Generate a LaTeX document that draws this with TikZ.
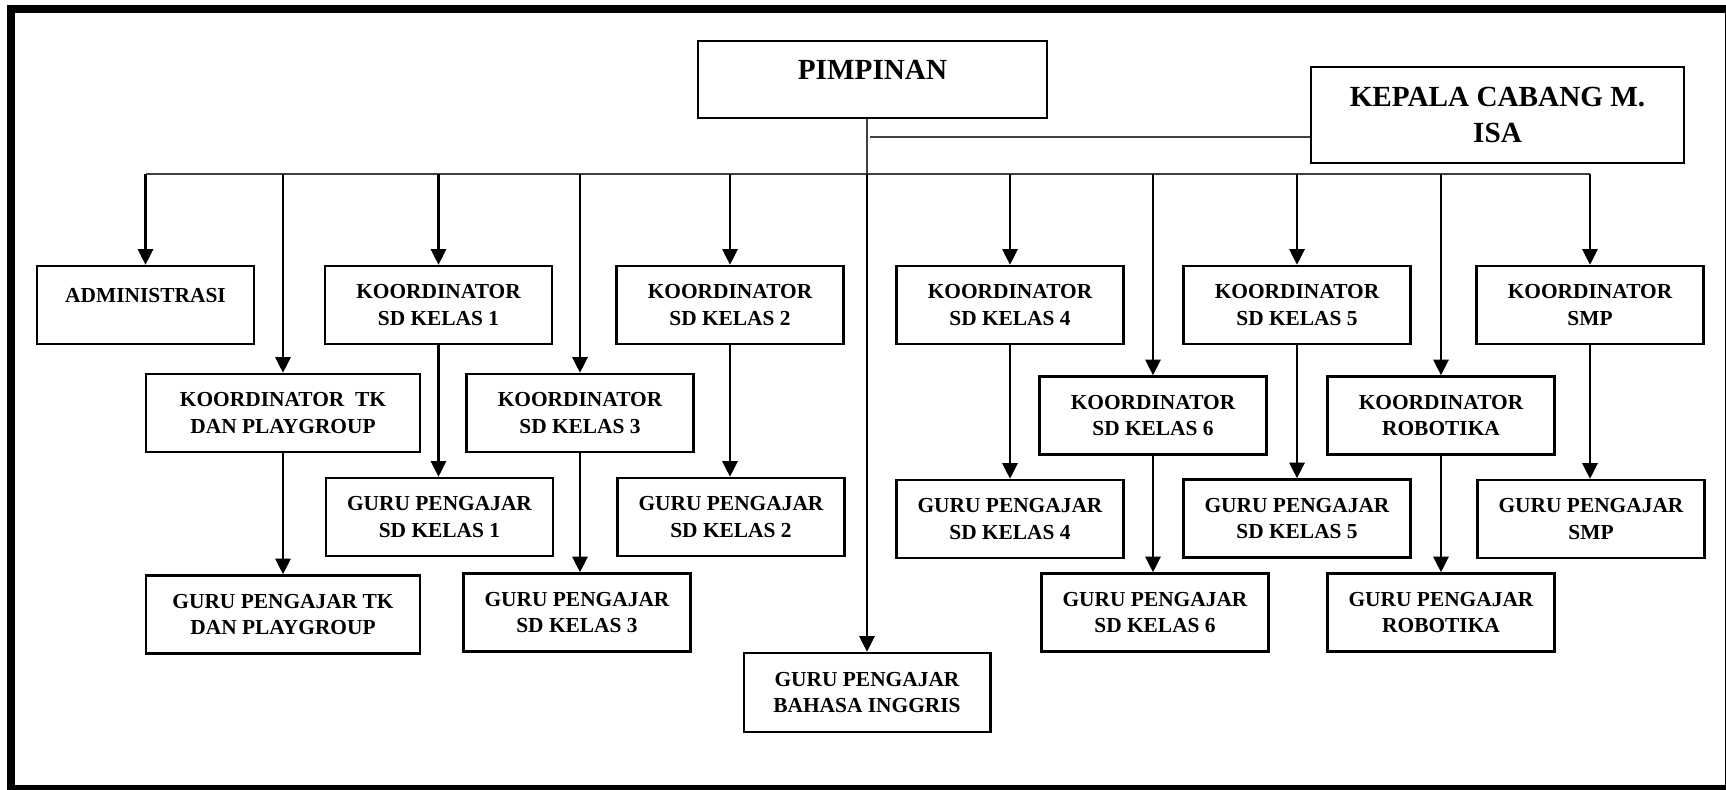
\documentclass[tikz,border=0pt]{standalone}
\usepackage{fontspec}
\setmainfont{Liberation Serif}
\usetikzlibrary{arrows.meta}

\begin{document}
\begin{tikzpicture}[x=0.5pt,y=-0.5pt,
            jabatan/.style={draw,rectangle,line width=1.25pt,inner sep=0pt,minimum width=113.5pt,minimum height=39pt,align=center,font=\fontsize{10.7}{13.4}\selectfont\bfseries},
            besar/.style={jabatan,font=\fontsize{14.6}{18.3}\selectfont\bfseries},
            panah/.style={-{Triangle[width=7.6pt,length=7.8pt]},line width=1.15pt},
            garis/.style={line width=0.75pt,black!75}]
            \useasboundingbox (0,0) rectangle (1726,789);
            \draw [line width=4.2pt] (10.8,9.2) rectangle (1729,789.5);
            \node [besar,minimum width=174.5pt,minimum height=38.5pt,text height=19.25pt,text depth=19.25pt] (pimpinan) at (872.5,79.5) {PIMPINAN};
            \node [besar,minimum width=186.5pt,minimum height=48pt] (kepala) at (1497.5,115) {KEPALA CABANG M.\\ISA};
            \node [jabatan,minimum width=108.5pt,text height=18.25pt,text depth=20.75pt] (admin) at (145.5,305) {ADMINISTRASI};
            \node [jabatan] (ksd1) at (438.5,305) {KOORDINATOR\\SD KELAS 1};
            \node [jabatan] (ksd2) at (730,305) {KOORDINATOR\\SD KELAS 2};
            \node [jabatan] (ksd4) at (1010,305) {KOORDINATOR\\SD KELAS 4};
            \node [jabatan] (ksd5) at (1297,305) {KOORDINATOR\\SD KELAS 5};
            \node [jabatan] (ksmp) at (1590,305) {KOORDINATOR\\SMP};
            \node [jabatan,minimum width=137pt] (ktk) at (283,413) {KOORDINATOR\ \ TK\\DAN PLAYGROUP};
            \node [jabatan] (ksd3) at (580,413) {KOORDINATOR\\SD KELAS 3};
            \node [jabatan] (ksd6) at (1153,415.5) {KOORDINATOR\\SD KELAS 6};
            \node [jabatan] (krobot) at (1441,415.5) {KOORDINATOR\\ROBOTIKA};
            \node [jabatan] (gsd1) at (439.5,517) {GURU PENGAJAR\\SD KELAS 1};
            \node [jabatan] (gsd2) at (731,517) {GURU PENGAJAR\\SD KELAS 2};
            \node [jabatan] (gsd4) at (1010,519) {GURU PENGAJAR\\SD KELAS 4};
            \node [jabatan] (gsd5) at (1297,518.5) {GURU PENGAJAR\\SD KELAS 5};
            \node [jabatan] (gsmp) at (1591,519) {GURU PENGAJAR\\SMP};
            \node [jabatan,minimum width=137pt] (gtk) at (283,614.5) {GURU PENGAJAR TK\\DAN PLAYGROUP};
            \node [jabatan] (gsd3) at (577,612.5) {GURU PENGAJAR\\SD KELAS 3};
            \node [jabatan] (gsd6) at (1155,612.5) {GURU PENGAJAR\\SD KELAS 6};
            \node [jabatan] (grobot) at (1441,612.5) {GURU PENGAJAR\\ROBOTIKA};
            \node [jabatan,minimum width=123.25pt,minimum height=39.5pt] (bahasa) at (867,692.5) {GURU PENGAJAR\\BAHASA INGGRIS};
            \coordinate (bus) at (0,174);
            \coordinate (cabang) at (870,137);
            \draw [garis] (pimpinan.south -| bahasa) -- (bus -| bahasa);
            \draw [garis] (cabang) -- (cabang -| kepala.west);
            \draw [garis] (admin |- bus) -- (ksmp |- bus);
            \draw [panah] (bus -| bahasa) -- (bahasa.north);
            \draw [panah] (admin |- bus) -- (admin.north);
            \draw [panah] (ktk |- bus) -- (ktk.north);
            \draw [panah] (ksd1 |- bus) -- (ksd1.north);
            \draw [panah] (ksd3 |- bus) -- (ksd3.north);
            \draw [panah] (ksd2 |- bus) -- (ksd2.north);
            \draw [panah] (ksd4 |- bus) -- (ksd4.north);
            \draw [panah] (ksd6 |- bus) -- (ksd6.north);
            \draw [panah] (ksd5 |- bus) -- (ksd5.north);
            \draw [panah] (krobot |- bus) -- (krobot.north);
            \draw [panah] (ksmp |- bus) -- (ksmp.north);
            \draw [panah] (ktk.south) -- (ktk.south |- gtk.north);
            \draw [panah] (ksd1.south) -- (ksd1.south |- gsd1.north);
            \draw [panah] (ksd3.south) -- (ksd3.south |- gsd3.north);
            \draw [panah] (ksd2.south) -- (ksd2.south |- gsd2.north);
            \draw [panah] (ksd4.south) -- (ksd4.south |- gsd4.north);
            \draw [panah] (ksd6.south) -- (ksd6.south |- gsd6.north);
            \draw [panah] (ksd5.south) -- (ksd5.south |- gsd5.north);
            \draw [panah] (krobot.south) -- (krobot.south |- grobot.north);
            \draw [panah] (ksmp.south) -- (ksmp.south |- gsmp.north);
        \end{tikzpicture}
\end{document}
